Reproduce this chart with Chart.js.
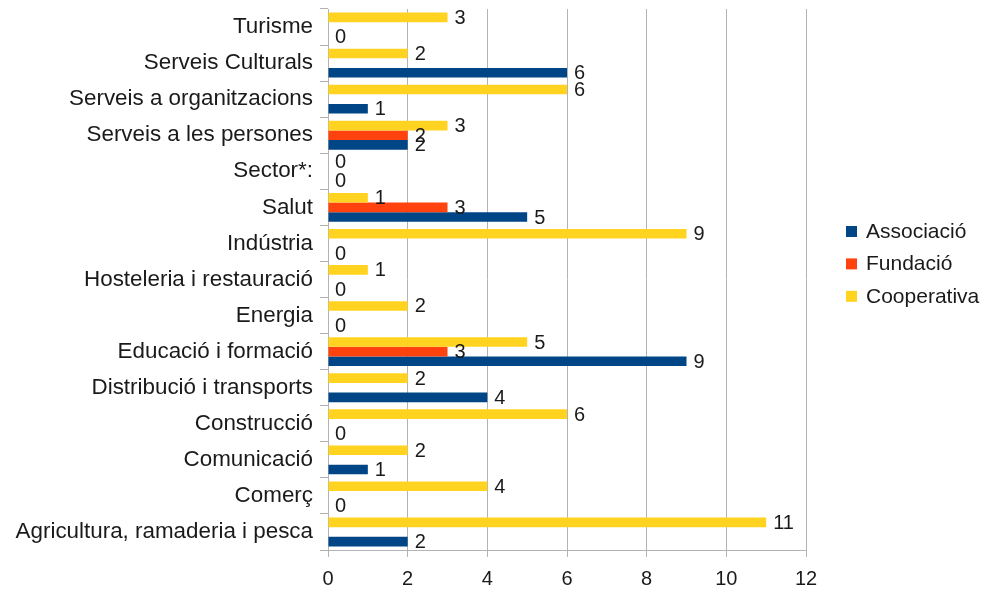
<!DOCTYPE html>
<html lang="ca">
<head>
<meta charset="utf-8">
<title>Entitats per sector</title>
<script src="https://cdn.jsdelivr.net/npm/chart.js"></script>
<style>
  body { margin: 0; background: #ffffff; }
</style>
</head>
<body>
<canvas id="grafic" width="993" height="589"></canvas>
<script>
// Sectors (de dalt a baix, com al gràfic)
const sectors = [
  'Turisme',
  'Serveis Culturals',
  'Serveis a organitzacions',
  'Serveis a les persones',
  'Sector*:',
  'Salut',
  'Indústria',
  'Hosteleria i restauració',
  'Energia',
  'Educació i formació',
  'Distribució i transports',
  'Construcció',
  'Comunicació',
  'Comerç',
  'Agricultura, ramaderia i pesca'
];

// Valors per tipus d'entitat (null = sense dada, no es dibuixa)
const associacio = [0, 6, 1, 2, 0, 5, 0, 0, 0, 9, 4, 0, 1, 0, 2];
const fundacio = [null, null, null, 2, null, 3, null, null, null, 3, null, null, null, null, null];
const cooperativa = [3, 2, 6, 3, 0, 1, 9, 1, 2, 5, 2, 6, 2, 4, 11];

const ticksX = [0, 2, 4, 6, 8, 10, 12];

const colorText = '#1a1a1a';
const colorGraella = '#b3b3b3';
const font = '"Liberation Sans", Arial, sans-serif';

// Etiqueta del valor al final de cada barra
const etiquetesValors = {
  id: 'etiquetesValors',
  afterDatasetsDraw(chart) {
    const ctx = chart.ctx;
    ctx.save();
    ctx.font = '20px ' + font;
    ctx.fillStyle = colorText;
    ctx.textAlign = 'left';
    ctx.textBaseline = 'middle';
    chart.data.datasets.forEach((ds, i) => {
      const meta = chart.getDatasetMeta(i);
      meta.data.forEach((barra, j) => {
        const v = ds.data[j];
        if (v === null) return;
        ctx.fillText(String(v), barra.x + 7, barra.y + 1);
      });
    });
    ctx.restore();
  }
};

// Llegenda a la dreta (Associació, Fundació, Cooperativa)
const llegenda = {
  id: 'llegenda',
  afterDraw(chart) {
    const ctx = chart.ctx;
    const area = chart.chartArea;
    const items = chart.data.datasets.slice().reverse();
    const x = area.right + 40;
    const y0 = (area.top + area.bottom) / 2 - 47.5;
    ctx.save();
    ctx.font = '21px ' + font;
    ctx.textBaseline = 'middle';
    ctx.textAlign = 'left';
    items.forEach((ds, i) => {
      const y = y0 + i * 32.4;
      ctx.fillStyle = ds.backgroundColor;
      ctx.fillRect(x, y - 6, 11, 11);
      ctx.fillStyle = colorText;
      ctx.fillText(ds.label, x + 20, y);
    });
    ctx.restore();
  }
};

new Chart(document.getElementById('grafic'), {
  type: 'bar',
  data: {
    labels: sectors,
    datasets: [
      { label: 'Cooperativa', data: cooperativa, backgroundColor: '#ffd320' },
      { label: 'Fundació', data: fundacio, backgroundColor: '#ff420e' },
      { label: 'Associació', data: associacio, backgroundColor: '#004586' }
    ]
  },
  options: {
    indexAxis: 'y',
    responsive: false,
    animation: false,
    categoryPercentage: 0.8,
    barPercentage: 1.0,
    layout: { padding: { top: 9, left: 15, right: 187, bottom: 0 } },
    plugins: {
      legend: { display: false },
      tooltip: { enabled: false }
    },
    scales: {
      x: {
        min: 0,
        max: 12,
        afterBuildTicks(scale) {
          scale.ticks = ticksX.map(v => ({ value: v }));
        },
        grid: { color: colorGraella, tickLength: 7 },
        border: { color: colorGraella },
        ticks: { color: colorText, padding: 10, font: { family: font, size: 20 } },
        afterFit(scale) {
          scale.height = 39;
        }
      },
      y: {
        grid: { drawOnChartArea: false, color: colorGraella, tickLength: 8, offset: true },
        border: { color: colorGraella },
        ticks: { color: colorText, padding: 7, font: { family: font, size: 22.4 } },
        afterFit(scale) {
          scale.width = 313;
          scale.paddingTop = 0;
          scale.paddingBottom = 0;
        }
      }
    }
  },
  plugins: [etiquetesValors, llegenda]
});
</script>
</body>
</html>
